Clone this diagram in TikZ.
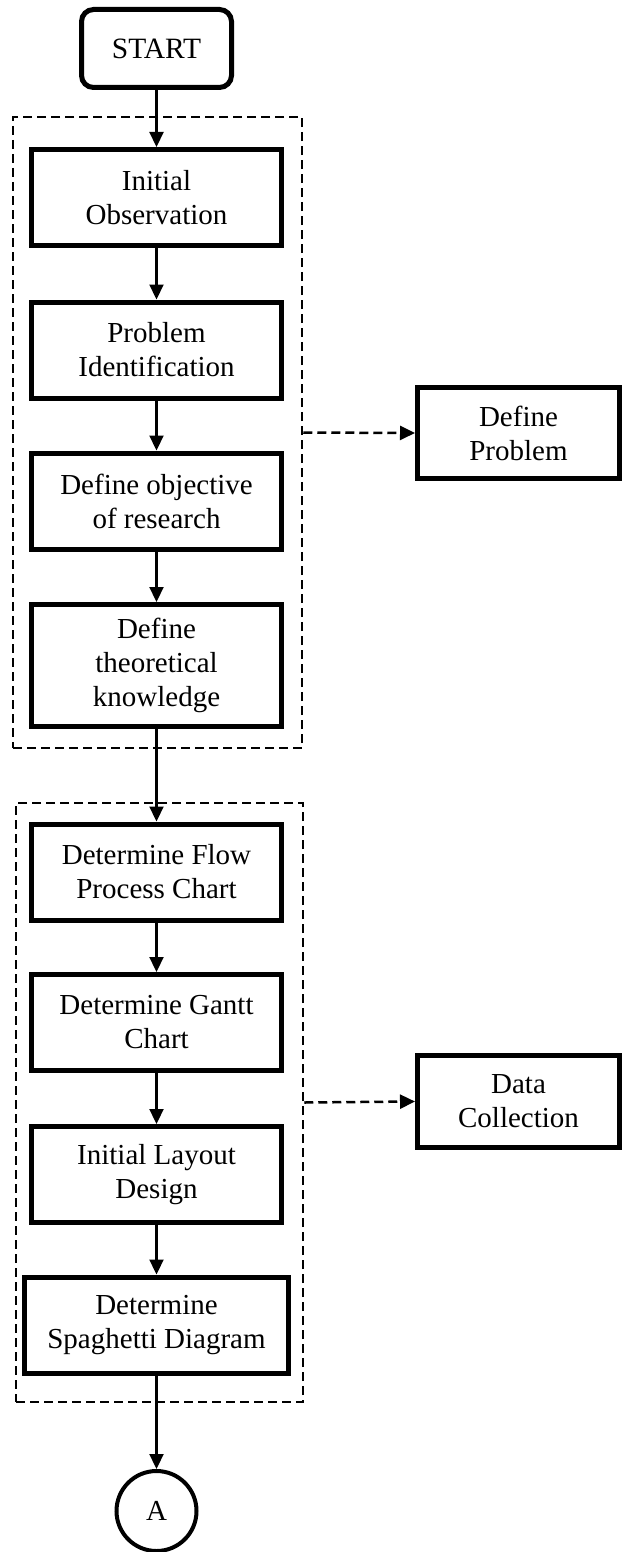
\documentclass[tikz,border=0pt]{standalone}
\usepackage{fontspec}
\setmainfont{Liberation Serif}
\usetikzlibrary{arrows.meta}
\tikzset{
  stepbox/.style={draw, line width=5pt, minimum width=250pt, minimum height=96pt, inner sep=0pt, align=center, font=\fontsize{29}{34}\selectfont},
  startbox/.style={draw, line width=5pt, rounded corners=12pt, minimum width=150pt, minimum height=78pt, inner sep=0pt, font=\fontsize{29.5}{34}\selectfont},
  groupbox/.style={draw, line width=2.5pt, dash pattern=on 9pt off 5pt, inner sep=0pt},
  conn/.style={line width=2.2pt, -{Triangle[length=15pt,width=14pt]}},
  dconn/.style={line width=2.5pt, dash pattern=on 9pt off 5pt, -{Triangle[length=15pt,width=14pt]}},
  circ/.style={draw, circle, line width=4pt, minimum size=80pt, inner sep=0pt, font=\fontsize{29}{34}\selectfont}
}
\begin{document}
\begin{tikzpicture}[x=1pt,y=-1pt]
\useasboundingbox (0,0) rectangle (622,1552);
\node[groupbox, minimum width=289pt, minimum height=631pt] (g1) at (157.5,432.5) {};
\node[groupbox, minimum width=287pt, minimum height=599pt] (g2) at (159.5,1102.5) {};
\node[startbox] (start) at (156.5,48.5) {START};
\node[stepbox] (io) at (156.5,197.5) {Initial\\Observation};
\node[stepbox] (pi) at (156.5,350) {Problem\\Identification};
\node[stepbox] (do) at (156.5,501) {Define objective\\of research};
\node[stepbox, minimum height=122pt] (dt) at (156.5,665.5) {Define\\theoretical\\knowledge};
\node[stepbox] (fp) at (156.5,872) {Determine Flow\\Process Chart};
\node[stepbox] (gc) at (156.5,1022.5) {Determine Gantt\\Chart};
\node[stepbox] (il) at (156.5,1174.5) {Initial Layout\\Design};
\node[stepbox, minimum width=264pt] (sd) at (156.5,1325) {Determine\\Spaghetti Diagram};
\node[circ] (a) at (156.5,1511) {A};
\node[stepbox, minimum width=202pt, minimum height=91pt] (dp) at (518.5,433) {Define\\Problem};
\node[stepbox, minimum width=202pt, minimum height=92pt] (dc) at (518.5,1101.5) {Data\\Collection};
\draw[conn] (start) -- (io);
\draw[conn] (io) -- (pi);
\draw[conn] (pi) -- (do);
\draw[conn] (do) -- (dt);
\draw[conn] (dt) -- (fp);
\draw[conn] (fp) -- (gc);
\draw[conn] (gc) -- (il);
\draw[conn] (il) -- (sd);
\draw[conn] (sd) -- (a);
\draw[dconn] (g1.east) -- (dp.west);
\draw[dconn] (g2.east) -- (dc.west);
\end{tikzpicture}
\end{document}
